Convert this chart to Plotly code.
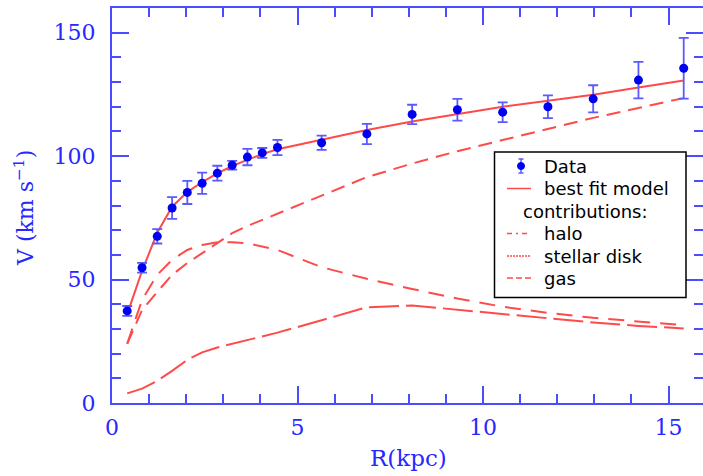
import plotly.graph_objects as go

# ---- data ----
R_data = [0.41, 0.81, 1.22, 1.62, 2.03, 2.43, 2.84, 3.24, 3.65, 4.05, 4.46,
          5.65, 6.87, 8.09, 9.31, 10.53, 11.75, 12.97, 14.19, 15.41]
V_data = [37.3, 54.8, 67.5, 79.0, 85.3, 89.0, 93.1, 96.3, 99.6, 101.3, 103.5,
          105.4, 109.0, 116.9, 118.8, 117.8, 120.0, 123.2, 130.8, 135.6]
V_err = [2.0, 2.0, 2.9, 4.4, 4.7, 4.3, 3.0, 1.8, 3.3, 2.0, 3.1,
         2.9, 4.1, 3.9, 4.4, 4.0, 4.6, 5.5, 7.4, 12.3]

R_model = R_data
V_best = [36.0, 53.5, 69.0, 79.5, 85.5, 89.5, 93.0, 96.0, 98.5, 100.8, 102.8,
          106.8, 110.6, 114.0, 117.0, 120.0, 122.4, 124.9, 127.8, 130.6]
V_halo = [24.0, 37.7, 45.0, 51.9, 56.7, 60.7, 64.7, 68.8, 71.7, 74.2, 76.6,
          84.0, 91.5, 97.0, 102.0, 106.5, 111.0, 115.5, 119.5, 123.5]
V_disk = [24.0, 41.8, 51.9, 58.0, 62.0, 64.0, 65.1, 65.1, 64.7, 63.4, 62.0,
          55.0, 50.3, 46.2, 42.3, 39.0, 36.5, 34.5, 33.0, 31.5]
V_gas = [3.9, 5.8, 9.0, 13.0, 17.5, 20.5, 22.5, 24.0, 25.5, 27.0, 28.5,
         33.5, 38.8, 39.5, 37.8, 36.0, 34.2, 32.6, 31.2, 30.2]

legend_labels = ["Data", "best fit model", "contributions:", "halo", "stellar disk", "gas"]

# ---- styling ----
W, H = 703, 476
ML, MR, MT, MB = 112, 0, 8, 73
X0, X1 = ML, W - MR
Y0, Y1 = MT, H - MB
XMAX, YMAX = 15.93, 160

AXIS_BLUE = "#4b4bff"
TEXT_BLUE = "#2727ff"
RED = "#ff4a4a"
FONT_AX = "DejaVu Serif"
FONT_LEG = "DejaVu Sans"


def px(x):
    return (x - X0) / (X1 - X0)


def py(y):
    return (Y1 - y) / (Y1 - Y0)


fig = go.Figure()

fig.add_trace(go.Scatter(x=R_model, y=V_halo, mode="lines",
                         line=dict(color=RED, width=2, dash="14px,8px"),
                         showlegend=False, hoverinfo="skip"))
fig.add_trace(go.Scatter(x=R_model, y=V_disk, mode="lines",
                         line=dict(color=RED, width=2, dash="16px,10px"),
                         showlegend=False, hoverinfo="skip"))
fig.add_trace(go.Scatter(x=R_model, y=V_gas, mode="lines",
                         line=dict(color=RED, width=2, dash="30px,7px"),
                         showlegend=False, hoverinfo="skip"))
fig.add_trace(go.Scatter(x=R_model, y=V_best, mode="lines",
                         line=dict(color=RED, width=2),
                         showlegend=False, hoverinfo="skip"))
fig.add_trace(go.Scatter(x=R_data, y=V_data, mode="markers",
                         marker=dict(color="#0000f0", size=9),
                         error_y=dict(type="data", array=V_err, visible=True,
                                      color="#5a5aff", thickness=1.8, width=5),
                         showlegend=False))
# invisible trace so the mirrored (top/right) tick axes are drawn
fig.add_trace(go.Scatter(x=[R_data[0]], y=[V_data[0]], xaxis="x2", yaxis="y2",
                         mode="markers", marker=dict(opacity=0), showlegend=False,
                         hoverinfo="skip"))

tick_common = dict(
    showline=True, linecolor=AXIS_BLUE, linewidth=2,
    ticks="inside", ticklen=17, tickwidth=2, tickcolor=AXIS_BLUE,
    showgrid=False, zeroline=False,
    tickfont=dict(family=FONT_AX, size=22, color=TEXT_BLUE),
)
xminor = dict(ticks="inside", ticklen=9, tickwidth=2, tickcolor=AXIS_BLUE,
              dtick=1, showgrid=False)
yminor = dict(ticks="inside", ticklen=9, tickwidth=2, tickcolor=AXIS_BLUE,
              dtick=10, showgrid=False)

fig.update_layout(
    xaxis=dict(range=[0, XMAX], tickvals=[0, 5, 10, 15], minor=xminor,
               ticklabelstandoff=4, **tick_common),
    yaxis=dict(range=[0, YMAX], tickvals=[0, 50, 100, 150], minor=yminor,
               ticklabelstandoff=10, **tick_common),
    xaxis2=dict(range=[0, XMAX], tickvals=[0, 5, 10, 15], minor=xminor,
                overlaying="x", side="top", showticklabels=False, anchor="y2",
                **tick_common),
    yaxis2=dict(range=[0, YMAX], tickvals=[0, 50, 100, 150], minor=yminor,
                overlaying="y", side="right", showticklabels=False, anchor="x2",
                **tick_common),
)

annotations = [
    dict(x=px(408), y=py(458), xref="paper", yref="paper", text="R(kpc)",
         showarrow=False, font=dict(family=FONT_AX, size=23, color=TEXT_BLUE),
         xanchor="center", yanchor="middle"),
    dict(x=px(24), y=py(208), xref="paper", yref="paper",
         text="V (km s<sup>−1</sup>)", textangle=-90,
         showarrow=False, font=dict(family=FONT_AX, size=22, color=TEXT_BLUE),
         xanchor="center", yanchor="middle"),
]

# ---- legend (drawn by hand to match the reference layout) ----
shapes = [dict(type="rect", xref="paper", yref="paper",
               x0=px(494.5), x1=px(686), y0=py(152), y1=py(297.5),
               line=dict(color="black", width=1.5), fillcolor="white", layer="above")]

row_y = [166, 188.5, 211, 233.5, 256, 278]
text_x = [542, 542, 521, 542, 542, 542]
for lbl, ty, tx in zip(legend_labels, row_y, text_x):
    annotations.append(dict(x=px(tx), y=py(ty), xref="paper", yref="paper", text=lbl,
                            showarrow=False, xanchor="left", yanchor="middle",
                            font=dict(family=FONT_LEG, size=18, color="black")))

# Data sample: error bar + dot
shapes.append(dict(type="line", xref="paper", yref="paper", x0=px(521), x1=px(521),
                   y0=py(159), y1=py(173), line=dict(color="#5a5aff", width=1.5), layer="above"))
for cy in (159, 173):
    shapes.append(dict(type="line", xref="paper", yref="paper", x0=px(518.5), x1=px(523.5),
                       y0=py(cy), y1=py(cy), line=dict(color="#5a5aff", width=1.5), layer="above"))
shapes.append(dict(type="circle", xref="paper", yref="paper", x0=px(517.5), x1=px(524.5),
                   y0=py(169.5), y1=py(162.5), line=dict(color="#0000f0", width=1),
                   fillcolor="#0000f0", layer="above"))

leg_lines = [(188.5, "solid"), (233.5, "5px,4px,2px,4px"), (256, "2px,1px"), (278, "6px,3px")]
for ly, dash in leg_lines:
    shapes.append(dict(type="line", xref="paper", yref="paper", x0=px(507), x1=px(531),
                       y0=py(ly), y1=py(ly), line=dict(color=RED, width=1.5, dash=dash),
                       layer="above"))

fig.update_layout(
    width=W, height=H,
    margin=dict(l=ML, r=MR, t=MT, b=MB, pad=0),
    paper_bgcolor="white", plot_bgcolor="white",
    showlegend=False,
    annotations=annotations, shapes=shapes,
)

fig.write_html("out.html")
